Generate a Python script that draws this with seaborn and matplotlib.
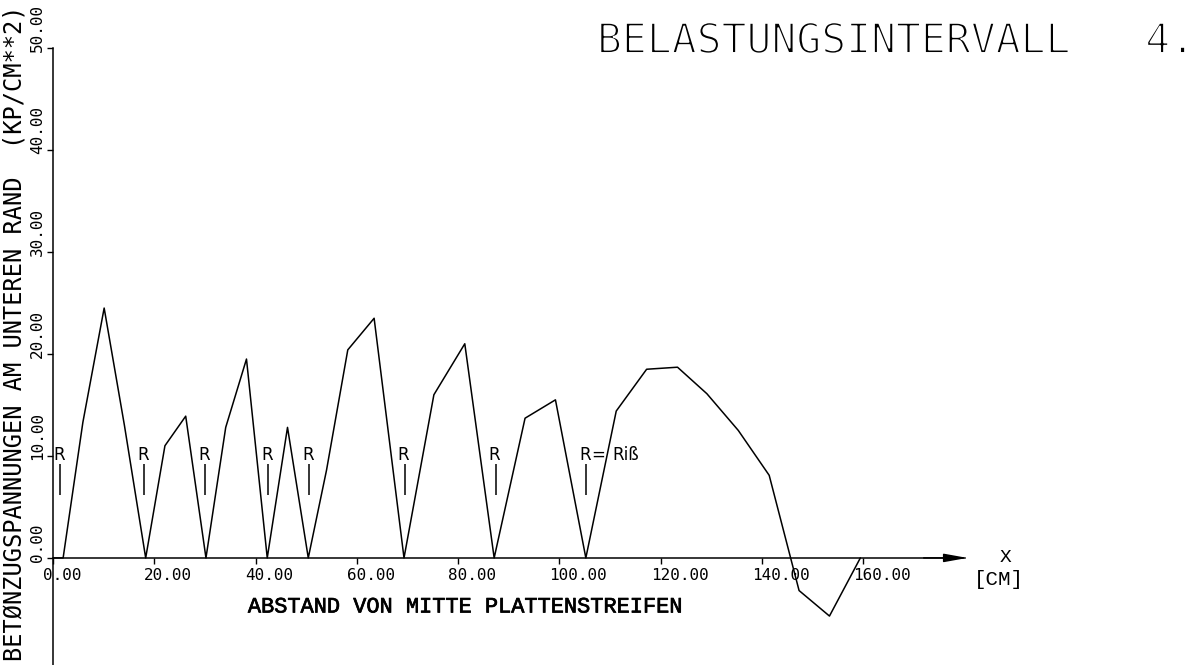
import numpy as np
import pandas as pd
import matplotlib
matplotlib.use("Agg")
import matplotlib.pyplot as plt
import matplotlib.patheffects as pe
import matplotlib.transforms as mtransforms
import seaborn as sns

# ---- data ----
x_cm = [0.0, 2.0, 5.9, 10.1, 14.1, 18.3, 22.1, 26.2, 30.2, 34.1, 38.2, 42.3, 46.3,
        50.4, 54.0, 58.2, 63.4, 69.3, 75.2, 81.3, 87.1, 93.2, 99.2, 105.2, 111.2,
        117.2, 123.3, 129.1, 135.3, 141.4, 147.3, 153.3, 159.4]
stress = [0.0, 0.0, 13.3, 24.5, 13.0, 0.0, 11.0, 13.9, 0.0, 12.8, 19.5, 0.0, 12.8,
          0.0, 8.6, 20.4, 23.5, 0.0, 16.0, 21.0, 0.0, 13.7, 15.5, 0.0, 14.4,
          18.5, 18.7, 16.1, 12.5, 8.1, -3.2, -5.7, 0.0]
crack_x = [1.4, 18.0, 30.0, 42.4, 50.5, 69.4, 87.4, 105.2]

x_ticks = [0, 20, 40, 60, 80, 100, 120, 140, 160]
x_tick_labels = ["0.00", "20.00", "40.00", "60.00", "80.00", "100.00", "120.00", "140.00", "160.00"]
y_ticks = [0, 10, 20, 30, 40, 50]
y_tick_labels = ["0.00", "10.00", "20.00", "30.00", "40.00", "50.00"]

title_text = "BELASTUNGSINTERVALL   4."
y_label = "BETØNZUGSPANNUNGEN AM UNTEREN RAND  (KP/CM**2)"
x_label = "ABSTAND VON MITTE PLATTENSTREIFEN"
x_unit_top = "X"
x_unit_bottom = "[CM]"
crack_mark = "R"
crack_note_eq = "="
crack_note = "Riß"

# ---- style ----
sns.set_style("white", {"axes.edgecolor": "black", "text.color": "black",
                        "xtick.color": "black", "ytick.color": "black",
                        "axes.labelcolor": "black"})
plt.rcParams["font.family"] = ["DejaVu Sans"]

fig = plt.figure(figsize=(12.04, 6.65), dpi=100)
ax = fig.add_axes([53 / 1204, 0.0, 911.7 / 1204, 617 / 665])
ax.set_facecolor("white")

df = pd.DataFrame({"x": x_cm, "y": stress})
sns.lineplot(data=df, x="x", y="y", sort=False, estimator=None,
             color="black", lw=1.1, ax=ax)

# crack markers
ax.vlines(crack_x, 6.2, 9.2, color="black", lw=1.1)
for cx in crack_x:
    ax.text(cx - 0.2, 10.1, crack_mark, ha="center", va="center",
            fontsize=12, family="DejaVu Sans")
ax.text(crack_x[-1] + 2.5, 10.1, crack_note_eq, ha="center", va="center",
        fontsize=12, family="DejaVu Sans")
ax.text(crack_x[-1] + 5.3, 10.1, crack_note, ha="left", va="center",
        fontsize=12, family="DejaVu Sans")

ax.set_xlim(0, 180)
ax.set_ylim(-10.5, 50)

ax.spines["top"].set_visible(False)
ax.spines["right"].set_visible(False)
ax.spines["bottom"].set_position(("data", 0))
for s in ("left", "bottom"):
    ax.spines[s].set_linewidth(1.1)
    ax.spines[s].set_color("black")

# arrow at end of x axis
ax.annotate("", xy=(1.003, 0), xycoords=ax.get_yaxis_transform(),
            xytext=(0.955, 0), textcoords=ax.get_yaxis_transform(),
            arrowprops=dict(arrowstyle="-|>,head_length=1.0,head_width=0.18",
                            mutation_scale=14, color="black", lw=1.1,
                            shrinkA=0, shrinkB=0),
            annotation_clip=False)

ax.set_xticks(x_ticks)
ax.set_xticklabels(x_tick_labels)
ax.set_yticks(y_ticks)
ax.set_yticklabels(y_tick_labels)
ax.tick_params(axis="x", bottom=True, direction="out", length=4, width=1,
               pad=3, labelsize=11.5)
ax.tick_params(axis="y", left=True, direction="out", length=4.5, width=1,
               pad=1, labelsize=11.5)

shift_x = mtransforms.ScaledTranslation(-10 / 100, 0, fig.dpi_scale_trans)
for lab in ax.get_xticklabels():
    lab.set_family("DejaVu Sans Mono")
    lab.set_ha("left")
    lab.set_transform(lab.get_transform() + shift_x)

shift_y = mtransforms.ScaledTranslation(0, -4 / 100, fig.dpi_scale_trans)
for lab in ax.get_yticklabels():
    lab.set_family("DejaVu Sans Mono")
    lab.set_rotation(90)
    lab.set_ha("right")
    lab.set_va("bottom")
    lab.set_transform(lab.get_transform() + shift_y)

# y label
ax.set_ylabel(y_label, family="DejaVu Sans Mono", fontsize=17)
ax.yaxis.set_label_coords(-0.029, 0.537)

# x label
ax.set_xlabel(x_label, family="Liberation Mono", fontsize=15.8)
ax.xaxis.label.set_va("center")
ax.xaxis.label.set_path_effects([pe.withStroke(linewidth=0.5, foreground="black")])
ax.xaxis.set_label_coords((466.5 - 53) / 911.7, (665 - 607) / 617)

# X [CM] unit at the arrow
blend = ax.get_yaxis_transform()
ax.text((1006 - 53) / 911.7, 0, x_unit_top, transform=blend, ha="center",
        va="center", family="Liberation Mono", fontsize=14)
ax.annotate(x_unit_bottom, xy=((999 - 53) / 911.7, 0), xycoords=blend,
            xytext=(0, -22), textcoords="offset pixels", ha="center",
            va="center", family="Liberation Mono", fontsize=15,
            annotation_clip=False)

# title
t = fig.text(597 / 1204, 1 - 53 / 665, title_text, ha="left", va="baseline",
             family="DejaVu Sans Mono", fontsize=29.8)
t.set_path_effects([pe.Stroke(linewidth=1.4, foreground="white")])

fig.savefig("out.png", dpi=100, facecolor="white")
